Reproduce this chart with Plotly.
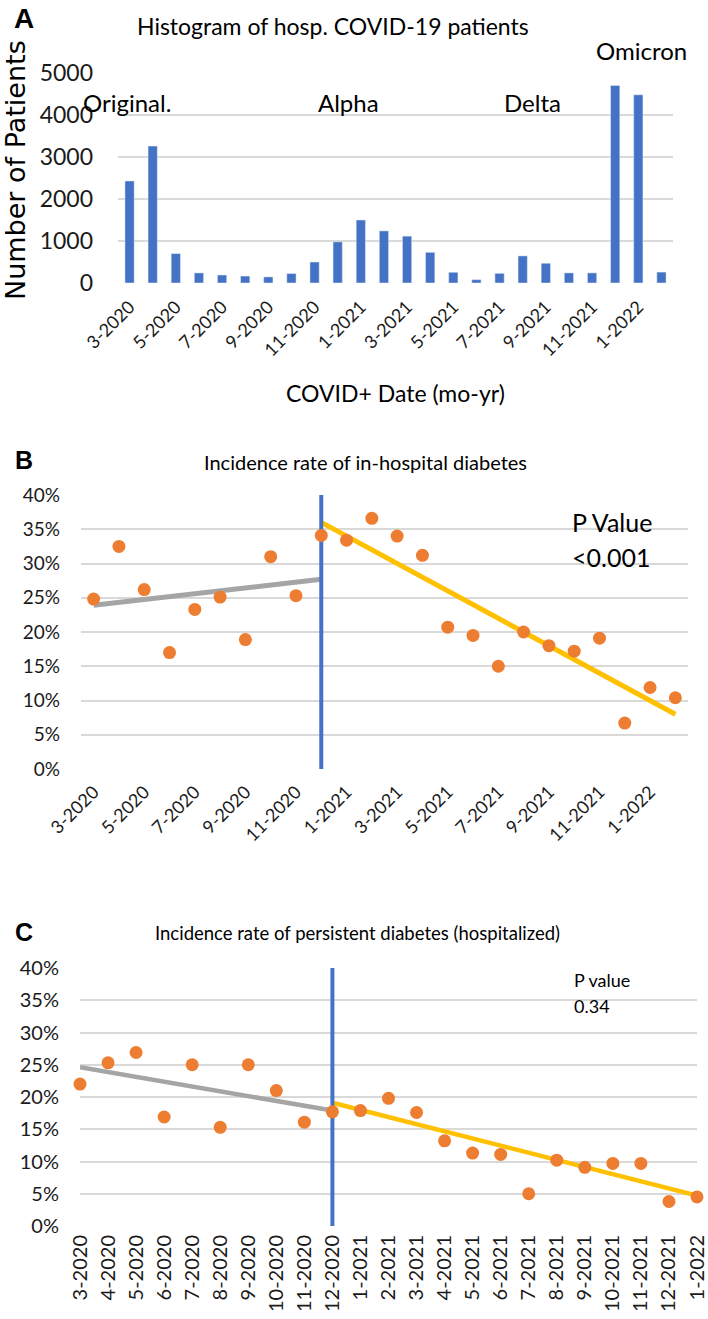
import plotly.graph_objects as go

# ---------------- data ----------------
months_ab = ["3-2020", "4-2020", "5-2020", "6-2020", "7-2020", "8-2020", "9-2020",
             "10-2020", "11-2020", "12-2020", "1-2021", "2-2021", "3-2021", "4-2021",
             "5-2021", "6-2021", "7-2021", "8-2021", "9-2021", "10-2021", "11-2021",
             "12-2021", "1-2022", "2-2022"]
months_c = ["3-2020", "4-2020", "5-2020", "6-2020", "7-2020", "8-2020", "9-2020",
            "10-2020", "11-2020", "12-2020", "1-2021", "2-2021", "3-2021", "4-2021",
            "5-2021", "6-2021", "7-2021", "8-2021", "9-2021", "10-2021", "11-2021",
            "12-2021", "1-2022"]

patients = [2430, 3260, 700, 240, 190, 165, 145, 225, 500, 980, 1500, 1240, 1115,
            730, 255, 80, 230, 645, 470, 240, 240, 4705, 4480, 260]

inhosp_rate = [24.8, 32.5, 26.2, 17.0, 23.3, 25.1, 18.9, 31.0, 25.3, 34.1, 33.4, 36.6,
               34.0, 31.2, 20.7, 19.5, 15.0, 20.0, 18.0, 17.2, 19.1, 6.7, 11.9, 10.4]
inhosp_pre_x = ["3-2020", "12-2020"]
inhosp_pre_fit = [23.9, 27.7]
inhosp_post_x = ["12-2020", "2-2022"]
inhosp_post_fit = [36.0, 8.0]

persist_rate = [22.0, 25.3, 26.9, 16.9, 25.0, 15.3, 25.0, 21.0, 16.1, 17.7, 17.9, 19.8,
                17.6, 13.2, 11.3, 11.1, 5.0, 10.2, 9.1, 9.7, 9.7, 3.8, 4.5]
persist_pre_x = ["3-2020", "12-2020"]
persist_pre_fit = [24.6, 17.9]
persist_post_x = ["12-2020", "1-2022"]
persist_post_fit = [19.1, 4.7]

cutoff_month = "12-2020"
rate_max = 40

variants = ["Original.", "Alpha", "Delta", "Omicron"]

# ---------------- styling ----------------
W, H = 708, 1319
BLUE = "#4472C4"
ORANGE = "#ED7D31"
GRAY = "#A5A5A5"
GOLD = "#FFC000"
GRID = "#D9D9D9"
TXT = "#1a1a1a"
FONT = "Lato"


def fx(px):
    return px / W


def fy(py):
    return 1 - py / H


fig = go.Figure()

# Panel A bars
fig.add_trace(go.Bar(x=months_ab, y=patients, marker_color=BLUE, xaxis="x", yaxis="y",
                     showlegend=False))

# Panel B
fig.add_trace(go.Scatter(x=inhosp_pre_x, y=inhosp_pre_fit, mode="lines",
                         line=dict(color=GRAY, width=5), xaxis="x2", yaxis="y2",
                         showlegend=False))
fig.add_trace(go.Scatter(x=inhosp_post_x, y=inhosp_post_fit, mode="lines",
                         line=dict(color=GOLD, width=5), xaxis="x2", yaxis="y2",
                         showlegend=False))
fig.add_trace(go.Scatter(x=[cutoff_month, cutoff_month], y=[0, rate_max], mode="lines",
                         line=dict(color=BLUE, width=4), xaxis="x2", yaxis="y2",
                         showlegend=False, cliponaxis=False))
fig.add_trace(go.Scatter(x=months_ab, y=inhosp_rate, mode="markers",
                         marker=dict(color=ORANGE, size=13), xaxis="x2", yaxis="y2",
                         showlegend=False, cliponaxis=False))

# Panel C
fig.add_trace(go.Scatter(x=persist_pre_x, y=persist_pre_fit, mode="lines",
                         line=dict(color=GRAY, width=4.5), xaxis="x3", yaxis="y3",
                         showlegend=False))
fig.add_trace(go.Scatter(x=persist_post_x, y=persist_post_fit, mode="lines",
                         line=dict(color=GOLD, width=4.5), xaxis="x3", yaxis="y3",
                         showlegend=False, cliponaxis=False))
fig.add_trace(go.Scatter(x=[cutoff_month, cutoff_month], y=[0, rate_max], mode="lines",
                         line=dict(color=BLUE, width=4), xaxis="x3", yaxis="y3",
                         showlegend=False, cliponaxis=False))
fig.add_trace(go.Scatter(x=months_c, y=persist_rate, mode="markers",
                         marker=dict(color=ORANGE, size=13), xaxis="x3", yaxis="y3",
                         showlegend=False, cliponaxis=False))

common_x = dict(type="category", showgrid=False, zeroline=False, showline=False,
                ticks="", color=TXT, automargin=False, categoryorder="array")
common_y = dict(showgrid=True, gridcolor=GRID, gridwidth=1.6, zeroline=False,
                showline=False, ticks="", color=TXT, automargin=False)

fig.update_layout(
    width=W, height=H, autosize=False,
    margin=dict(l=0, r=0, t=0, b=0, pad=0),
    paper_bgcolor="white", plot_bgcolor="white",
    font=dict(family=FONT, color=TXT),
    bargap=0.6,
    xaxis=dict(common_x, domain=[fx(118), fx(673)], anchor="y",
               categoryarray=months_ab,
               range=[-0.5, len(months_ab) - 0.5],
               tickmode="array", tickvals=months_ab[::2], ticktext=months_ab[::2],
               tickangle=-45, tickfont=dict(size=18, family=FONT), ticklabelstandoff=9),
    yaxis=dict(common_y, domain=[fy(283), fy(73)], anchor="x", range=[0, 5000],
               dtick=1000, tickfont=dict(size=23, family=FONT), ticklabelstandoff=24),
    xaxis2=dict(common_x, domain=[fx(81), fx(688)], anchor="y2",
                categoryarray=months_ab,
                range=[-0.5, len(months_ab) - 0.5],
                tickmode="array", tickvals=months_ab[::2], ticktext=months_ab[::2],
                tickangle=-45, tickfont=dict(size=18, family=FONT), ticklabelstandoff=8),
    yaxis2=dict(common_y, domain=[fy(769), fy(495)], anchor="x2", range=[0, rate_max],
                dtick=5, ticksuffix="%", tickfont=dict(size=19, family=FONT),
                ticklabelstandoff=20),
    xaxis3=dict(common_x, domain=[fx(80), fx(697)], anchor="y3",
                categoryarray=months_c,
                range=[0, len(months_c) - 1],
                tickmode="array", tickvals=months_c, ticktext=months_c,
                tickangle=-90, tickfont=dict(size=20, family=FONT), ticklabelstandoff=4),
    yaxis3=dict(common_y, domain=[fy(1226), fy(968)], anchor="x3", range=[0, rate_max],
                dtick=5, ticksuffix="%", tickfont=dict(size=20, family=FONT),
                ticklabelstandoff=20),
)

ann = []


def add_text(text, x, y, size, family=FONT, xanchor="center", bold=False, angle=0):
    if bold:
        text = "<b>" + text + "</b>"
    ann.append(dict(text=text, x=fx(x), y=fy(y), xref="paper", yref="paper",
                    showarrow=False, xanchor=xanchor, yanchor="middle",
                    textangle=angle, font=dict(size=size, family=family, color="#000")))


# Panel A
add_text("A", 24, 18, 28, family="Liberation Sans", bold=True)
add_text("Histogram of hosp. COVID-19 patients", 333, 26, 23)
add_text("Number of Patients", 16, 170, 27, family="DejaVu Sans", angle=-90)
add_text("COVID+ Date (mo-yr)", 396, 393, 23)
add_text(variants[0], 127, 102, 24)
add_text(variants[1], 348, 102, 24)
add_text(variants[2], 532, 102, 24)
add_text(variants[3], 641, 50, 24)

# Panel B
add_text("B", 24, 460, 25, family="Liberation Sans", bold=True)
add_text("Incidence rate of in-hospital diabetes", 366, 462, 20)
add_text("P Value", 570, 522, 25, xanchor="left")
add_text("&lt;0.001", 570, 557, 25, xanchor="left")

# Panel C
add_text("C", 24, 932, 25, family="Liberation Sans", bold=True)
add_text("Incidence rate of persistent diabetes (hospitalized)", 357, 933, 18.5)
add_text("P value", 572, 980, 18, xanchor="left")
add_text("0.34", 572, 1006, 18, xanchor="left")

fig.update_layout(annotations=ann)

fig.write_html("out.html", config={"displayModeBar": False},
               post_script="document.body.style.margin='0';")
